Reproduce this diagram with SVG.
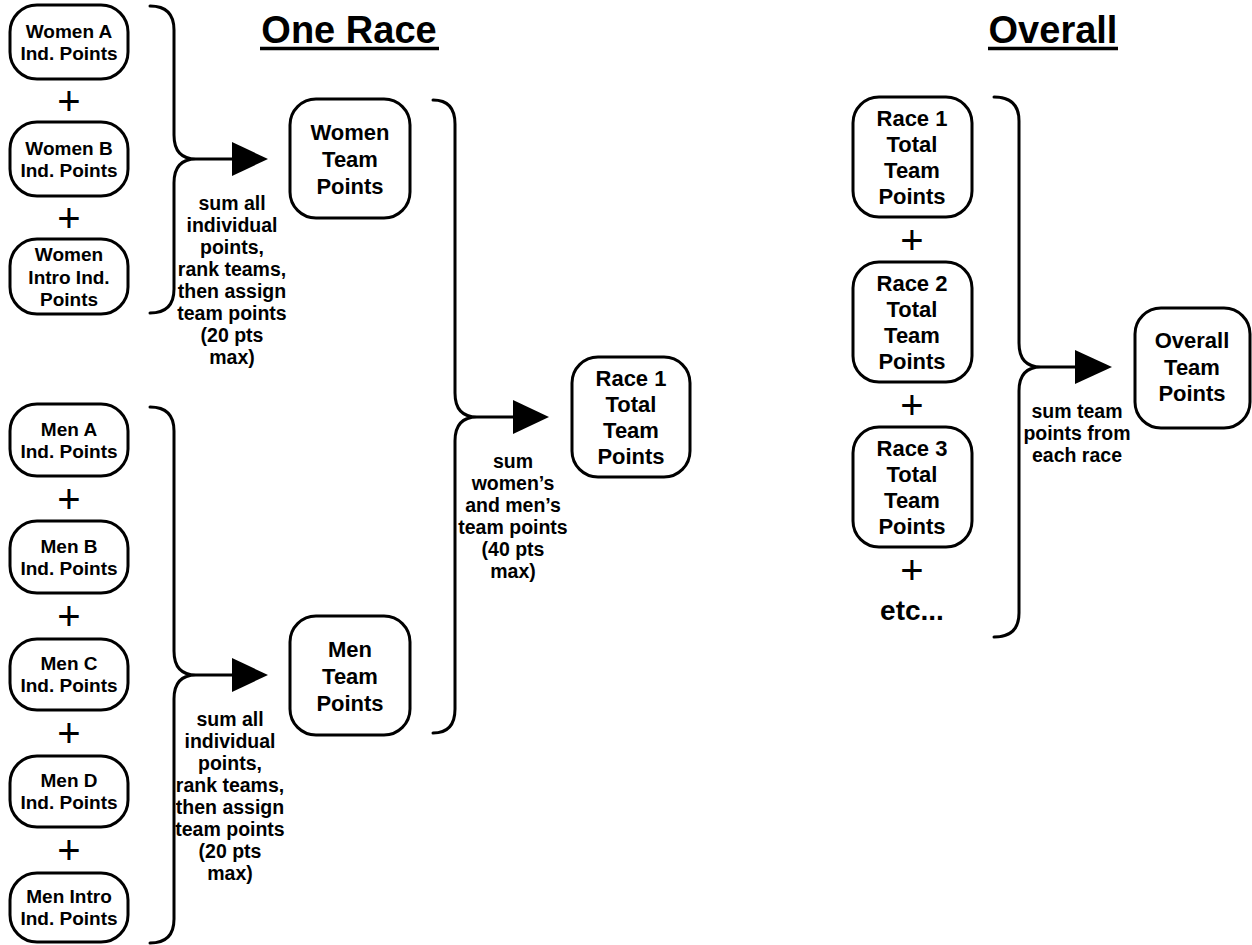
<svg xmlns="http://www.w3.org/2000/svg" width="1252" height="945" viewBox="0 0 1252 945">
<style>
text{font-family:"Liberation Sans",Arial,Helvetica,sans-serif;font-weight:bold;fill:#000;text-anchor:middle}
.b{fill:#fff;stroke:#000;stroke-width:3}
.s{font-size:19px}
.m{font-size:19.5px}
.l{font-size:22px}
.p{font-size:40px;font-weight:normal}
.t{font-size:38px}
.c{fill:none;stroke:#000;stroke-width:3;stroke-linecap:round}
.a{fill:#000;stroke:none}
</style>
<rect width="1252" height="945" fill="#fff"/>
<g id="titles">
<text class="t" x="349" y="43">One Race</text>
<line x1="260" y1="48.5" x2="439" y2="48.5" stroke="#000" stroke-width="3.5"/>
<text class="t" x="1053" y="43">Overall</text>
<line x1="988" y1="48.5" x2="1118" y2="48.5" stroke="#000" stroke-width="3.5"/>
</g>
<g id="womenA"><rect class="b" x="10" y="5" width="118" height="74" rx="27"/><text class="s" x="69" y="38">Women A</text><text class="s" x="69" y="60">Ind. Points</text></g>
<text class="p" x="69" y="115">+</text>
<g id="womenB"><rect class="b" x="10" y="122" width="118" height="74" rx="27"/><text class="s" x="69" y="155">Women B</text><text class="s" x="69" y="177">Ind. Points</text></g>
<text class="p" x="69" y="232">+</text>
<g id="womenIntro"><rect class="b" x="10" y="239" width="118" height="75" rx="27"/><text class="s" x="69" y="261">Women</text><text class="s" x="69" y="283.5">Intro Ind.</text><text class="s" x="69" y="306">Points</text></g>
<g id="menA"><rect class="b" x="10" y="404" width="118" height="72" rx="27"/><text class="s" x="69" y="436">Men A</text><text class="s" x="69" y="458">Ind. Points</text></g>
<text class="p" x="69" y="513">+</text>
<g id="menB"><rect class="b" x="10" y="521" width="118" height="72" rx="27"/><text class="s" x="69" y="553">Men B</text><text class="s" x="69" y="575">Ind. Points</text></g>
<text class="p" x="69" y="630">+</text>
<g id="menC"><rect class="b" x="10" y="639" width="118" height="71" rx="27"/><text class="s" x="69" y="670">Men C</text><text class="s" x="69" y="692">Ind. Points</text></g>
<text class="p" x="69" y="747">+</text>
<g id="menD"><rect class="b" x="10" y="756" width="118" height="71" rx="27"/><text class="s" x="69" y="787">Men D</text><text class="s" x="69" y="809">Ind. Points</text></g>
<text class="p" x="69" y="864">+</text>
<g id="menIntro"><rect class="b" x="10" y="873" width="118" height="69" rx="27"/><text class="s" x="69" y="903">Men Intro</text><text class="s" x="69" y="925">Ind. Points</text></g>
<g id="womenTeam"><rect class="b" x="290" y="99" width="120" height="119" rx="26"/><text class="l" x="350" y="139.5">Women</text><text class="l" x="350" y="166.5">Team</text><text class="l" x="350" y="193.5">Points</text></g>
<g id="menTeam"><rect class="b" x="290" y="616" width="120" height="119" rx="26"/><text class="l" x="350" y="656.5">Men</text><text class="l" x="350" y="683.5">Team</text><text class="l" x="350" y="710.5">Points</text></g>
<g id="race1Total"><rect class="b" x="572" y="357" width="118" height="120" rx="26"/><text class="l" x="631" y="386">Race 1</text><text class="l" x="631" y="412">Total</text><text class="l" x="631" y="438">Team</text><text class="l" x="631" y="464">Points</text></g>
<g id="r1"><rect class="b" x="853" y="97" width="119" height="120" rx="26"/><text class="l" x="912" y="126">Race 1</text><text class="l" x="912" y="152">Total</text><text class="l" x="912" y="178">Team</text><text class="l" x="912" y="204">Points</text></g>
<text class="p" x="912" y="254">+</text>
<g id="r2"><rect class="b" x="853" y="262" width="119" height="120" rx="26"/><text class="l" x="912" y="291">Race 2</text><text class="l" x="912" y="317">Total</text><text class="l" x="912" y="343">Team</text><text class="l" x="912" y="369">Points</text></g>
<text class="p" x="912" y="419">+</text>
<g id="r3"><rect class="b" x="853" y="427" width="119" height="120" rx="26"/><text class="l" x="912" y="456">Race 3</text><text class="l" x="912" y="482">Total</text><text class="l" x="912" y="508">Team</text><text class="l" x="912" y="534">Points</text></g>
<text class="p" x="912" y="584">+</text>
<text x="912" y="620" style="font-size:28px">etc...</text>
<g id="overall"><rect class="b" x="1135" y="308" width="115" height="120" rx="26"/><text class="l" x="1192" y="348">Overall</text><text class="l" x="1192" y="375">Team</text><text class="l" x="1192" y="401">Points</text></g>
<g id="connectors">
<path class="c" d="M150,6 Q174,6 174,30 L174,135 Q174,159 196,159 Q174,159 174,183 L174,289 Q174,313 150,313 M196,159 L236,159"/>
<polygon class="a" points="232,142 268,159 232,176"/>
<path class="c" d="M150,407 Q174,407 174,431 L174,651 Q174,675 196,675 Q174,675 174,699 L174,919 Q174,943 150,943 M196,675 L236,675"/>
<polygon class="a" points="232,658 268,675 232,692"/>
<path class="c" d="M433,100 Q455,100 455,124 L455,393 Q455,417 477,417 Q455,417 455,441 L455,709 Q455,733 433,733 M477,417 L517,417"/>
<polygon class="a" points="513,400 549,417 513,434"/>
<path class="c" d="M994,97 Q1019,97 1019,121 L1019,343 Q1019,367 1041,367 Q1019,367 1019,391 L1019,613 Q1019,637 994,637 M1041,367 L1079,367"/>
<polygon class="a" points="1075,350 1112,367 1075,384"/>
</g>
<g id="labels">
<text class="m" x="232" y="210">sum all</text><text class="m" x="232" y="232">individual</text><text class="m" x="232" y="254">points,</text><text class="m" x="232" y="276">rank teams,</text><text class="m" x="232" y="298">then assign</text><text class="m" x="232" y="320">team points</text><text class="m" x="232" y="342">(20 pts</text><text class="m" x="232" y="364">max)</text>
<text class="m" x="230" y="726">sum all</text><text class="m" x="230" y="748">individual</text><text class="m" x="230" y="770">points,</text><text class="m" x="230" y="792">rank teams,</text><text class="m" x="230" y="814">then assign</text><text class="m" x="230" y="836">team points</text><text class="m" x="230" y="858">(20 pts</text><text class="m" x="230" y="880">max)</text>
<text class="m" x="513" y="468">sum</text><text class="m" x="513" y="490">women’s</text><text class="m" x="513" y="512">and men’s</text><text class="m" x="513" y="534">team points</text><text class="m" x="513" y="556">(40 pts</text><text class="m" x="513" y="578">max)</text>
<text class="m" x="1077" y="418">sum team</text><text class="m" x="1077" y="440">points from</text><text class="m" x="1077" y="462">each race</text>
</g>
</svg>
